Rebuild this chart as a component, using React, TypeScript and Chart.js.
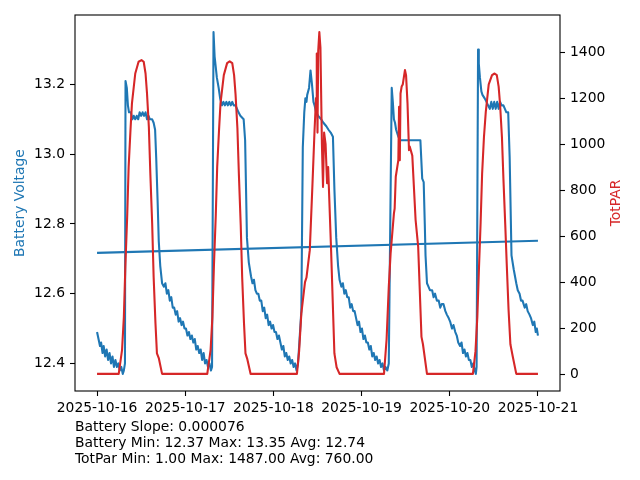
import { useEffect, useRef } from 'react';
import { Chart, registerables } from 'chart.js';

Chart.register(...registerables);

// ---- data (hours since 2025-10-16 00:00) ----
const dateLabels = ['2025-10-16', '2025-10-17', '2025-10-18', '2025-10-19', '2025-10-20', '2025-10-21'];
const dayTicks = [0, 24, 48, 72, 96, 120];
const voltTicks = [12.4, 12.6, 12.8, 13.0, 13.2];
const parTicks = [0, 200, 400, 600, 800, 1000, 1200, 1400];

const batteryHours = [
  0.0, 0.4, 0.8, 1.1, 1.5, 1.8, 2.2, 2.6, 3.0, 3.4, 3.8, 4.2, 4.6, 5.0, 5.4, 5.8, 6.2, 6.6, 7.0, 7.3, 7.6,
  7.75, 8.1, 8.4, 8.7, 9.2, 9.6, 10.0, 10.4, 10.8, 11.2, 11.6, 12.0, 12.4, 12.8, 13.2, 13.6, 14.0, 14.4, 15.0, 15.4, 15.8,
  16.1, 16.5, 16.8, 17.2, 17.7, 18.2, 18.6, 19.0, 19.4, 19.8, 20.2, 20.6, 21.0, 21.4, 21.8, 22.2, 22.6, 23.0, 23.4, 23.8,
  24.2, 24.6, 25.0, 25.4,
  25.8, 26.2, 26.6, 27.0, 27.4, 27.8, 28.2, 28.6, 29.0, 29.4, 29.8, 30.2, 30.6, 31.0, 31.3,
  31.7, 32.0, 32.2, 32.6, 33.1, 33.5, 34.0, 34.4, 34.8, 35.2, 35.6, 36.0, 36.4, 36.8, 37.2, 37.7, 38.1, 38.5, 39.0, 39.9,
  40.3, 40.8, 41.3, 41.9, 42.3, 42.7, 43.1, 43.5, 43.9, 44.3, 44.7, 45.1, 45.5, 45.9, 46.3, 46.7, 47.1, 47.5, 47.9,
  48.3, 48.7, 49.1, 49.5, 49.9,
  50.3, 50.7, 51.1, 51.5, 51.9, 52.3, 52.7, 53.1, 53.5, 53.9, 54.3, 54.7, 55.3, 55.6, 56.0, 56.4, 56.7, 57.0, 57.2,
  57.7, 58.1, 58.5, 58.9, 59.2, 59.6, 60.2, 61.0, 61.6, 62.4, 63.0, 63.7, 64.2, 64.6, 65.1, 65.6, 66.0, 66.5, 66.9,
  67.3, 67.7, 68.1, 68.5, 68.9, 69.3, 69.7, 70.1, 70.5, 70.9, 71.3, 71.7, 72.1, 72.5, 72.9, 73.3, 73.7, 74.1, 74.5,
  74.9, 75.3, 75.7, 76.1, 76.5, 76.9, 77.3, 77.7, 78.1, 78.5, 79.0, 79.4,
  80.2, 80.5, 80.8, 81.1, 81.4, 82.0, 82.6, 83.2, 84.0, 88.0, 88.5, 88.9, 89.2, 89.4, 89.8, 90.2, 90.6, 91.2, 91.6,
  92.0, 92.5, 93.0, 93.4, 93.8, 94.3, 94.8, 95.2, 95.7, 96.1, 96.6, 97.0, 97.5, 97.9, 98.3, 98.8, 99.2, 99.6, 100.0,
  100.4, 100.8, 101.2, 101.6, 102.0, 102.4, 102.8, 103.1, 103.3,
  103.7, 103.9, 104.2, 104.6, 104.9, 105.5, 106.0, 106.4, 106.9, 107.3, 107.7, 108.1, 108.5, 108.9, 109.3, 109.7,
  110.1, 110.6, 111.0, 111.4, 111.9, 112.3, 112.8, 113.4, 114.1, 114.5, 115.0, 115.4, 115.8, 116.4, 116.8, 117.2,
  117.7, 118.1, 118.6, 119.0, 119.4, 119.7, 120.0,
];
const batteryVolts = [
  12.49, 12.47, 12.45, 12.46, 12.43, 12.45, 12.42, 12.44, 12.41, 12.43, 12.40, 12.42, 12.39, 12.41, 12.39, 12.40, 12.38, 12.39, 12.37, 12.38, 12.40,
  13.21, 13.19, 13.14, 13.12, 13.12, 13.10, 13.11, 13.10, 13.11, 13.10, 13.12, 13.11, 13.12, 13.11, 13.12, 13.10, 13.11, 13.10, 13.10, 13.09, 13.07,
  12.99, 12.86, 12.75, 12.68, 12.63, 12.62, 12.63, 12.60, 12.61, 12.58, 12.59, 12.56, 12.56, 12.54, 12.55, 12.52, 12.53, 12.51, 12.52, 12.50,
  12.50, 12.48, 12.49, 12.47,
  12.48, 12.46, 12.47, 12.44, 12.45, 12.43, 12.44, 12.41, 12.43, 12.40, 12.41, 12.39, 12.40, 12.38, 12.39,
  13.35, 13.28, 13.26, 13.22, 13.19, 13.16, 13.14, 13.15, 13.14, 13.15, 13.14, 13.15, 13.14, 13.15, 13.14, 13.14, 13.13, 13.12, 13.11, 13.10,
  13.04, 12.76, 12.69, 12.65, 12.63, 12.64, 12.61, 12.60, 12.60, 12.58, 12.58, 12.55, 12.56, 12.53, 12.54, 12.51, 12.52, 12.50, 12.51,
  12.49, 12.49, 12.47, 12.48, 12.46,
  12.44, 12.45, 12.42, 12.43, 12.41, 12.42, 12.40, 12.41, 12.39, 12.40, 12.38, 12.40, 12.50, 12.55, 13.02, 13.12, 13.16, 13.15, 13.17,
  13.19, 13.24, 13.20, 13.15, 13.14, 13.12, 13.11, 13.10, 13.09, 13.08, 13.07, 13.06, 13.05, 12.90, 12.76, 12.68, 12.64, 12.62, 12.63,
  12.60, 12.61, 12.59, 12.59, 12.56, 12.57, 12.55, 12.55, 12.53, 12.51, 12.52, 12.49, 12.50, 12.47, 12.48, 12.46, 12.46, 12.44, 12.45,
  12.42, 12.43, 12.41, 12.42, 12.40, 12.41, 12.39, 12.40, 12.38, 12.39, 12.38, 12.40,
  13.19, 13.15, 13.10, 13.09, 13.07, 13.05, 13.04, 13.04, 13.04, 13.04, 12.93, 12.92, 12.80, 12.71, 12.63, 12.62, 12.61, 12.61, 12.59,
  12.60, 12.58, 12.58, 12.56, 12.57, 12.57, 12.55, 12.54, 12.53, 12.52, 12.50, 12.51, 12.49, 12.48, 12.46, 12.45, 12.46, 12.43, 12.44,
  12.42, 12.43, 12.41, 12.41, 12.39, 12.40, 12.38, 12.37, 12.39,
  13.30, 13.26, 13.22, 13.18, 13.17, 13.16, 13.15, 13.14, 13.13, 13.15, 13.13, 13.15, 13.13, 13.15, 13.13, 13.15,
  13.14, 13.14, 13.13, 13.12, 13.12, 12.99, 12.71, 12.67, 12.63, 12.61, 12.60, 12.58, 12.58, 12.56, 12.57, 12.55,
  12.54, 12.53, 12.51, 12.52, 12.49, 12.50, 12.48,
];

const parHours = [
  0.0, 5.9, 6.8, 7.3, 7.7, 8.2, 8.6, 9.1, 9.5, 10.4, 11.3, 12.1, 12.7, 13.2, 13.6, 14.1, 14.5, 15.0, 15.4, 15.9,
  16.3, 16.8, 17.7,
  30.0, 30.9, 31.4, 31.8, 32.3, 32.7, 33.2, 33.6, 34.5, 35.4, 36.1, 36.8, 37.3, 37.7, 38.2, 38.6, 39.1, 39.5, 40.0,
  40.4, 40.9, 41.8,
  54.4, 55.0, 55.6, 56.3, 56.6, 57.0, 57.9, 58.6, 59.2, 59.6, 59.8, 60.0, 60.2, 60.5, 60.8, 61.2, 61.5, 61.8, 62.2,
  62.6, 62.9, 63.7, 64.6, 65.2, 66.0,
  78.1, 78.8, 79.4, 79.9, 80.8, 81.0, 81.3, 82.0, 82.2, 82.4, 82.6, 82.9, 83.2, 83.8, 84.1, 84.5, 84.9, 85.1, 85.8,
  86.7, 87.4, 88.3, 88.7, 89.8,
  102.3, 103.0, 103.5, 103.9, 104.4, 104.8, 105.3, 105.8, 106.6, 107.5, 108.2, 108.8, 109.3, 109.7, 110.2, 110.6,
  111.1, 111.5, 112.0, 112.5, 113.1, 114.1, 120.0,
];
const parValues = [
  1, 1, 104, 249, 466, 684, 901, 1061, 1177, 1307, 1358, 1365, 1358, 1307, 1220, 1075, 873, 656, 423, 221,
  90, 70, 1,
  1, 104, 249, 466, 684, 901, 1061, 1177, 1300, 1352, 1360, 1352, 1300, 1215, 1070, 870, 650, 420, 220,
  90, 65, 1,
  1, 100, 264, 360, 400, 420, 539, 814, 1061, 1200, 1394, 1050, 1407, 1487, 1420, 1000, 814, 1050, 1000,
  830, 900, 539, 90, 30, 1,
  1, 150, 380, 525, 699, 720, 858, 930, 1162, 930, 1220, 1250, 1259, 1322, 1300, 1176, 974, 990, 950,
  670, 554, 162, 130, 1,
  1, 100, 249, 440, 660, 870, 1030, 1140, 1260, 1300, 1307, 1300, 1250, 1170, 1030, 850,
  650, 480, 280, 130, 80, 1, 1,
];

const trendHours = [0, 120];
const trendVolts = [12.717, 12.752];

const statLines = [
  'Battery Slope: 0.000076',
  'Battery Min: 12.37 Max: 13.35 Avg: 12.74',
  'TotPar Min: 1.00 Max: 1487.00 Avg: 760.00',
];

const BLUE = '#1f77b4';
const RED = '#d62728';
const FONT = '"DejaVu Sans", sans-serif';
const FS = 13.89;

function padded(values: number[]): [number, number] {
  const lo = Math.min(...values);
  const hi = Math.max(...values);
  const m = (hi - lo) * 0.05;
  return [lo - m, hi + m];
}

const decorPlugin = {
  id: 'decor',
  afterDraw(chart: any) {
    const ctx = chart.ctx as CanvasRenderingContext2D;
    const { left, top, right, bottom } = chart.chartArea;
    ctx.save();
    ctx.strokeStyle = '#000';
    ctx.lineWidth = 1.1;
    ctx.strokeRect(left, top, right - left, bottom - top);

    ctx.font = `${FS}px ${FONT}`;
    ctx.textAlign = 'center';
    ctx.textBaseline = 'middle';
    const midY = (top + bottom) / 2;

    ctx.save();
    ctx.translate(20.5, midY);
    ctx.rotate(-Math.PI / 2);
    ctx.fillStyle = BLUE;
    ctx.fillText('Battery Voltage', 0, 0);
    ctx.restore();

    ctx.save();
    ctx.translate(616, midY);
    ctx.rotate(-Math.PI / 2);
    ctx.fillStyle = RED;
    ctx.fillText('TotPAR', 0, 0);
    ctx.restore();

    ctx.textAlign = 'left';
    ctx.textBaseline = 'alphabetic';
    ctx.fillStyle = '#000';
    statLines.forEach((line, i) => {
      ctx.fillText(line, left, 431 + i * 16);
    });
    ctx.restore();
  },
};

export default function App() {
  const ref = useRef<HTMLCanvasElement | null>(null);

  useEffect(() => {
    document.body.style.margin = '0';
    const canvas = ref.current;
    if (!canvas) return;
    const [xMin, xMax] = padded(batteryHours);
    const [vMin, vMax] = padded(batteryVolts);
    const [pMin, pMax] = padded(parValues);

    const tickGrid = {
      display: true,
      drawOnChartArea: false,
      drawTicks: true,
      tickLength: 5,
      tickWidth: 1.1,
      tickColor: '#000',
      color: '#000',
    };

    const chart = new Chart(canvas, {
      type: 'line',
      data: {
        datasets: [
          {
            label: 'TotPAR',
            data: parHours.map((h, i) => ({ x: h, y: parValues[i] })),
            yAxisID: 'y1',
            borderColor: RED,
            backgroundColor: RED,
            borderWidth: 2.08,
            pointRadius: 0,
            borderJoinStyle: 'round',
            tension: 0,
            order: 0,
          },
          {
            label: 'Trend',
            data: trendHours.map((h, i) => ({ x: h, y: trendVolts[i] })),
            yAxisID: 'y',
            borderColor: BLUE,
            backgroundColor: BLUE,
            borderWidth: 2.08,
            pointRadius: 0,
            tension: 0,
            order: 1,
          },
          {
            label: 'Battery Voltage',
            data: batteryHours.map((h, i) => ({ x: h, y: batteryVolts[i] })),
            yAxisID: 'y',
            borderColor: BLUE,
            backgroundColor: BLUE,
            borderWidth: 2.08,
            pointRadius: 0,
            borderJoinStyle: 'round',
            tension: 0,
            order: 2,
          },
        ],
      },
      options: {
        responsive: false,
        animation: false,
        devicePixelRatio: 1,
        layout: { padding: { top: 15, left: 0, right: 0, bottom: 0 } },
        plugins: {
          legend: { display: false },
          tooltip: { enabled: false },
        },
        scales: {
          x: {
            type: 'linear',
            min: xMin,
            max: xMax,
            grid: tickGrid,
            border: { display: false },
            afterBuildTicks: (scale: any) => {
              scale.ticks = dayTicks.map((v) => ({ value: v }));
            },
            afterFit: (scale: any) => {
              scale.height = 89;
            },
            ticks: {
              autoSkip: false,
              maxRotation: 0,
              padding: 4,
              color: '#000',
              font: { family: FONT, size: FS },
              callback: (value: any) => dateLabels[dayTicks.indexOf(Number(value))] ?? '',
            },
          },
          y: {
            type: 'linear',
            position: 'left',
            min: vMin,
            max: vMax,
            grid: tickGrid,
            border: { display: false },
            afterBuildTicks: (scale: any) => {
              scale.ticks = voltTicks.map((v) => ({ value: v }));
            },
            afterFit: (scale: any) => {
              scale.width = 75;
            },
            ticks: {
              padding: 5,
              color: '#000',
              font: { family: FONT, size: FS },
              callback: (value: any) => Number(value).toFixed(1),
            },
          },
          y1: {
            type: 'linear',
            position: 'right',
            min: pMin,
            max: pMax,
            grid: tickGrid,
            border: { display: false },
            afterBuildTicks: (scale: any) => {
              scale.ticks = parTicks.map((v) => ({ value: v }));
            },
            afterFit: (scale: any) => {
              scale.width = 80;
            },
            ticks: {
              padding: 5,
              color: '#000',
              font: { family: FONT, size: FS },
              callback: (value: any) => String(Math.round(Number(value))),
            },
          },
        },
      },
      plugins: [decorPlugin],
    } as any);

    return () => chart.destroy();
  }, []);

  return (
    <div style={{ width: 640, height: 480, position: 'relative', background: '#fff' }}>
      <canvas ref={ref} width={640} height={480} style={{ display: 'block' }} />
    </div>
  );
}
